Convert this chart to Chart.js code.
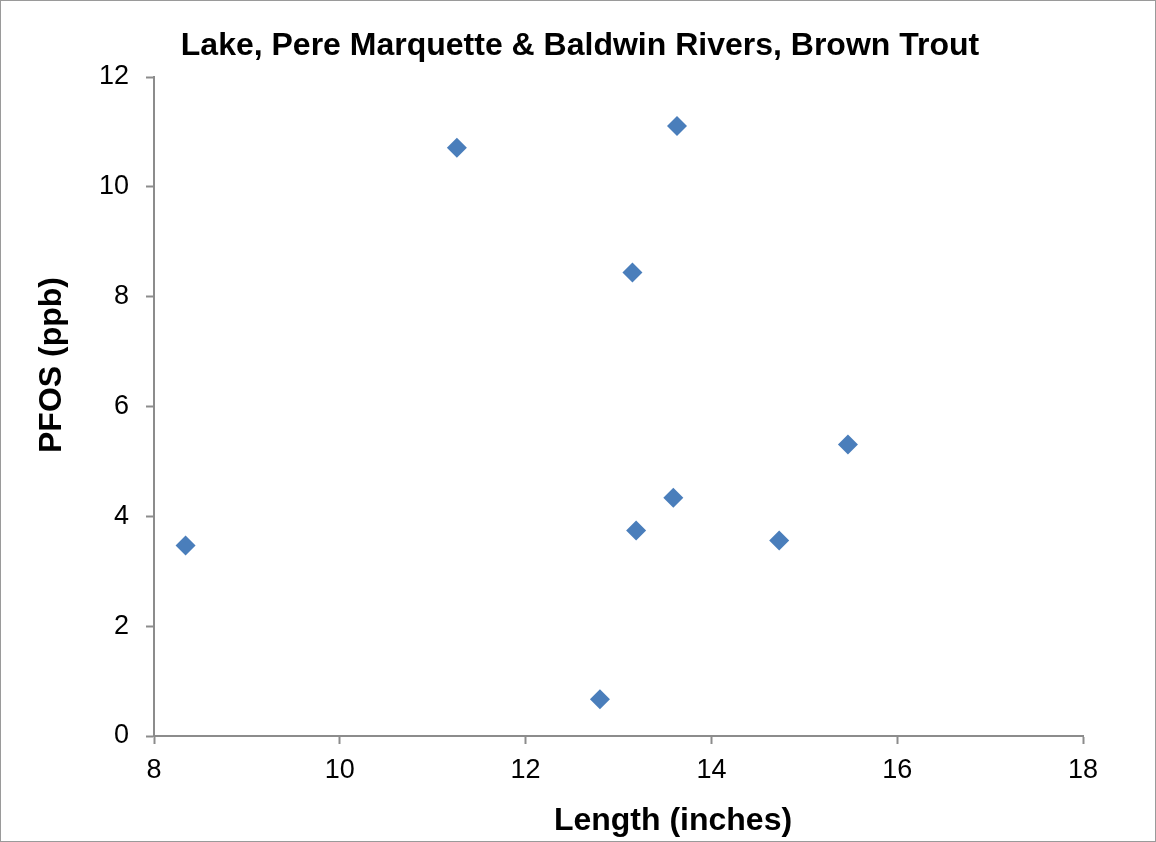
<!DOCTYPE html>
<html>
<head>
<meta charset="utf-8">
<script src="https://cdn.jsdelivr.net/npm/chart.js@4"></script>
<style>
  body { margin: 0; background: #fff; }
  #wrap { position: absolute; left: 0; top: 0; width: 1154px; height: 840px; border: 1px solid #9a9a9a; }
</style>
</head>
<body>
<div id="wrap"><canvas id="chart" width="1154" height="840"></canvas></div>
<script>
// length (inches) and PFOS (ppb) for each fish
var lengths = [8.34, 11.26, 13.63, 13.15, 15.47, 13.59, 13.19, 14.73, 12.80];
var pfos    = [3.47, 10.71, 11.11, 8.44, 5.31, 4.34, 3.74, 3.56, 0.67];

var xTicks = [8, 10, 12, 14, 16, 18];
var yTicks = [0, 2, 4, 6, 8, 10, 12];

var chartTitle = 'Lake, Pere Marquette & Baldwin Rivers, Brown Trout';
var xTitle = 'Length (inches)';
var yTitle = 'PFOS (ppb)';

var points = [];
for (var i = 0; i < lengths.length; i++) {
    points.push({ x: lengths[i], y: pfos[i] });
}

var fontFamily = '"Liberation Sans", Arial, sans-serif';
var axisGray = '#8c8c8c';

// excel puts the titles off-centre, so draw them by hand
var titlesPlugin = {
    id: 'excelTitles',
    afterDraw: function(chart) {
        var ctx = chart.ctx;
        ctx.save();
        ctx.fillStyle = '#000';
        ctx.textAlign = 'center';
        ctx.textBaseline = 'middle';

        ctx.font = 'bold 32px ' + fontFamily;
        ctx.fillText(chartTitle, 579, 45);

        ctx.font = 'bold 32px ' + fontFamily;
        ctx.fillText(xTitle, 672, 820);

        ctx.translate(51, 364);
        ctx.rotate(-Math.PI / 2);
        ctx.fillText(yTitle, 0, 0);
        ctx.restore();
    }
};

var chartScatter = new Chart(document.getElementById('chart'), {
    type: 'scatter',
    data: {
        datasets: [{
            label: 'Brown Trout',
            data: points,
            pointStyle: 'rectRot',
            pointRadius: 10,
            pointHoverRadius: 10,
            backgroundColor: '#4a7ebb',
            borderColor: '#4a7ebb',
            borderWidth: 0
        }]
    },
    plugins: [titlesPlugin],
    options: {
        responsive: false,
        animation: false,
        layout: { padding: { left: 0, right: 72, top: 76, bottom: 0 } },
        plugins: {
            legend: { display: false },
            tooltip: { enabled: false },
            title: { display: false }
        },
        scales: {
            x: {
                type: 'linear',
                min: 8,
                max: 18,
                afterBuildTicks: function(scale) {
                    scale.ticks = xTicks.map(function(v) { return { value: v }; });
                },
                grid: { display: true, drawOnChartArea: false, drawTicks: true, tickLength: 8, tickColor: axisGray, tickWidth: 2 },
                border: { display: true, color: axisGray, width: 2 },
                ticks: { color: '#000', font: { family: fontFamily, size: 27 }, padding: 10, maxRotation: 0 },
                afterFit: function(scale) { scale.height = 105; }
            },
            y: {
                type: 'linear',
                min: 0,
                max: 12,
                afterBuildTicks: function(scale) {
                    scale.ticks = yTicks.map(function(v) { return { value: v }; });
                },
                grid: { display: true, drawOnChartArea: false, drawTicks: true, tickLength: 8, tickColor: axisGray, tickWidth: 2 },
                border: { display: true, color: axisGray, width: 2 },
                ticks: { color: '#000', font: { family: fontFamily, size: 27 }, padding: 17 },
                afterFit: function(scale) { scale.width = 153; }
            }
        }
    }
});
</script>
</body>
</html>
